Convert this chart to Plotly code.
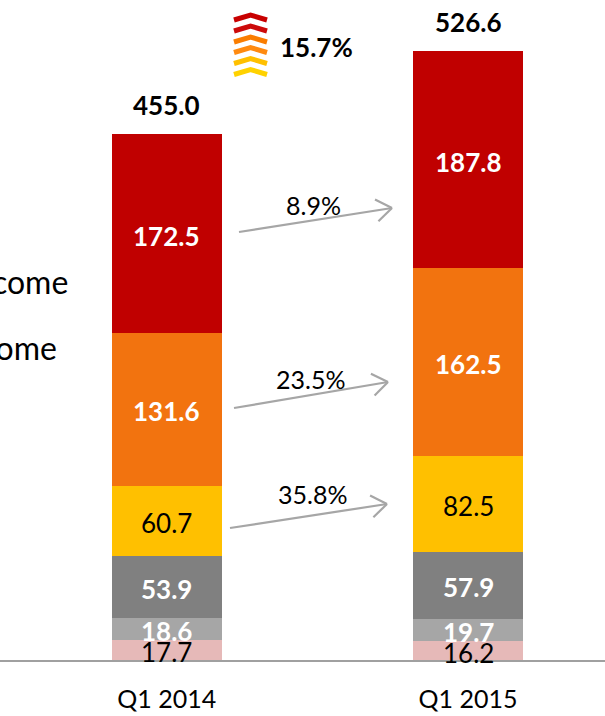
import math
import plotly.graph_objects as go

categories = ["Q1 2014", "Q1 2015"]
series_names = ["Other income", "Trading income", "Insurance income",
                "Net fee and commission income", "Net fee income", "Net interest income"]
series_values = [
    [17.7, 16.2],
    [18.6, 19.7],
    [53.9, 57.9],
    [60.7, 82.5],
    [131.6, 162.5],
    [172.5, 187.8],
]
series_colors = ["#E6B9B8", "#A6A6A6", "#808080", "#FFC000", "#F2730F", "#C00000"]
label_white = [False, True, True, False, True, True]
totals = [455.0, 526.6]
growth_labels = ["8.9%", "23.5%", "35.8%"]
total_growth = "15.7%"
legend_texts = ["Net interest income", "Net fee income"]

FONT = "Lato"
W, H = 605, 716
PLOT_BOTTOM = 660
PX_PER_CAT = 301.3
X0_PX = 166.7
PX_PER_UNIT = 1.156
YMAX = PLOT_BOTTOM / PX_PER_UNIT


def px2x(px):
    return (px - X0_PX) / PX_PER_CAT


def py2y(py):
    return (PLOT_BOTTOM - py) / PX_PER_UNIT


fig = go.Figure()
for name, vals, col in zip(series_names, series_values, series_colors):
    fig.add_trace(go.Bar(x=categories, y=vals, name=name, marker_color=col,
                         marker_line_width=0, width=[0.365, 0.365],
                         showlegend=False, hoverinfo="skip"))

annotations = []
# segment labels
for ci, cat in enumerate(categories):
    base = 0.0
    for si, vals in enumerate(series_values):
        v = vals[ci]
        white = label_white[si]
        annotations.append(dict(
            x=cat, y=base + v / 2, xref="x", yref="y", showarrow=False,
            yanchor="middle",
            text=(f"<b>{v:.1f}</b>" if white else f"{v:.1f}"),
            font=dict(family=FONT, size=26, color="white" if white else "black"),
            yshift=-2,
        ))
        base += v
    annotations.append(dict(
        x=cat, y=totals[ci], xref="x", yref="y", showarrow=False,
        text=f"<b>{totals[ci]:.1f}</b>", yanchor="bottom", yshift=11,
        font=dict(family=FONT, size=26, color="black"),
    ))

# growth arrows (tail px, head px, label center px)
arrows = [
    ((239, 232), (392, 208), (313, 205)),
    ((234, 408), (388, 382), (310, 379)),
    ((230, 528), (387, 504), (312, 494)),
]
shapes = []
ARROW_COL = "#A6A6A6"
for (tail, head, lab), txt in zip(arrows, growth_labels):
    shapes.append(dict(type="line", xref="x", yref="y",
                       x0=px2x(tail[0]), y0=py2y(tail[1]),
                       x1=px2x(head[0]), y1=py2y(head[1]),
                       line=dict(color=ARROW_COL, width=2.2)))
    dx, dy = tail[0] - head[0], tail[1] - head[1]
    L = math.hypot(dx, dy)
    ux, uy = dx / L, dy / L
    for ang in (0.62, -0.62):
        c, s = math.cos(ang), math.sin(ang)
        rx, ry = ux * c - uy * s, ux * s + uy * c
        ex, ey = head[0] + 19 * rx, head[1] + 19 * ry
        shapes.append(dict(type="line", xref="x", yref="y",
                           x0=px2x(head[0]), y0=py2y(head[1]),
                           x1=px2x(ex), y1=py2y(ey),
                           line=dict(color=ARROW_COL, width=2.2)))
    annotations.append(dict(x=px2x(lab[0]), y=py2y(lab[1]), xref="x", yref="y",
                            showarrow=False, text=txt, xanchor="center", yanchor="middle",
                            font=dict(family=FONT, size=25, color="black")))

# chevron icon
chev_tops = [13.5, 24.5, 35.5, 46, 57, 68]
chev_cols = ["#C80000", "#CC0A0A", "#FA7D00", "#FF8A10", "#FFC000", "#FFD200"]
for top, col in zip(chev_tops, chev_cols):
    pts = [(234, top + 6.5), (250.5, top + 1.5), (267, top + 6.5)]
    path = "M " + " L ".join(f"{p[0] / W:.5f},{(PLOT_BOTTOM - p[1]) / PLOT_BOTTOM:.5f}" for p in pts)
    shapes.append(dict(type="path", xref="paper", yref="paper", path=path,
                       line=dict(color=col, width=5)))
annotations.append(dict(x=278 / W, y=(PLOT_BOTTOM - 47) / PLOT_BOTTOM, xref="paper", yref="paper",
                        xanchor="left", yanchor="middle", showarrow=False,
                        text=f"<b>{total_growth}</b>",
                        font=dict(family=FONT, size=26, color="black")))

# partially visible legend texts on the left edge (cut by the left edge as in the reference)
for txt, (rx, cy) in zip(legend_texts, [(70, 281), (59, 347)]):
    annotations.append(dict(x=rx / W, y=py2y(cy), xref="paper", yref="y",
                            xanchor="right", yanchor="middle", showarrow=False, text=txt,
                            font=dict(family=FONT, size=32, color="black")))

fig.update_layout(
    width=W, height=H, barmode="stack",
    margin=dict(l=0, r=0, t=0, b=H - PLOT_BOTTOM),
    paper_bgcolor="white", plot_bgcolor="white",
    annotations=annotations, shapes=shapes,
    xaxis=dict(range=[px2x(0), px2x(W)], showline=True, linecolor="#A0A0A0", linewidth=2,
               showgrid=False, zeroline=False, ticks="",
               tickfont=dict(family=FONT, size=25, color="black"),
               ticklabelstandoff=16, fixedrange=True),
    yaxis=dict(range=[0, YMAX], visible=False, showgrid=False, zeroline=False, fixedrange=True),
    font=dict(family=FONT),
)
fig.write_html("out.html", config={"displayModeBar": False},
               post_script="document.body.style.margin='0';document.body.style.overflow='hidden';")
